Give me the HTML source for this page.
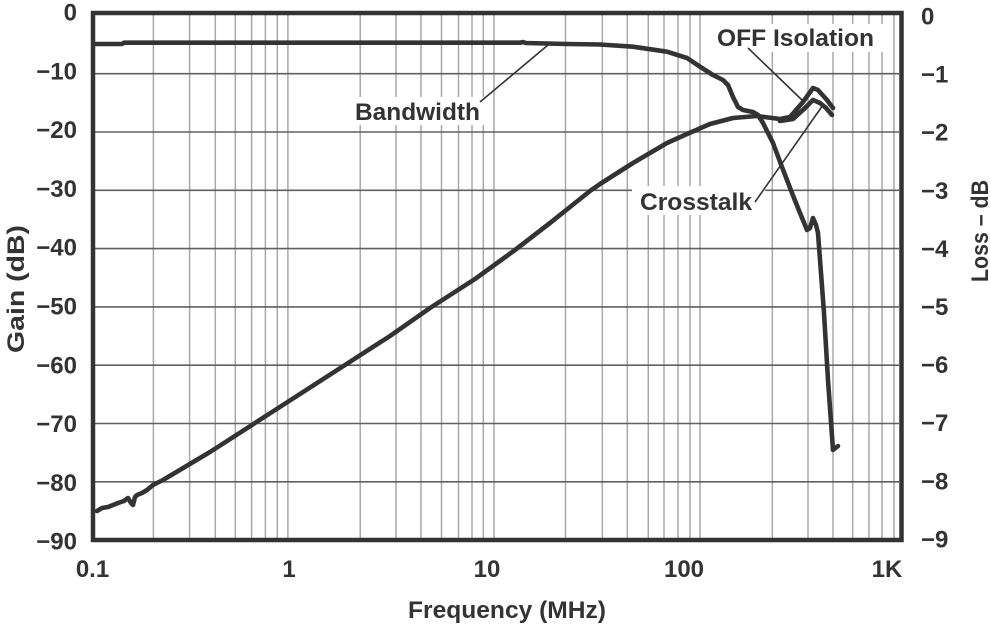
<!DOCTYPE html>
<html>
<head>
<meta charset="utf-8">
<style>
  html,body{margin:0;padding:0;background:#fff;}
  svg{display:block;}
  text{font-family:"Liberation Sans",Arial,sans-serif;font-weight:bold;fill:#333;}
</style>
</head>
<body>
<svg width="991" height="625" viewBox="0 0 991 625" xmlns="http://www.w3.org/2000/svg">
  <rect x="0" y="0" width="991" height="625" fill="#fff"/>

  <!-- vertical gridlines -->
  <g stroke="#a8a8a8" stroke-width="1.5">
    <line x1="153.4" y1="15" x2="153.4" y2="538"/>
    <line x1="189.6" y1="15" x2="189.6" y2="538"/>
    <line x1="215.3" y1="15" x2="215.3" y2="538"/>
    <line x1="235.3" y1="15" x2="235.3" y2="538"/>
    <line x1="251.6" y1="15" x2="251.6" y2="538"/>
    <line x1="265.4" y1="15" x2="265.4" y2="538"/>
    <line x1="277.3" y1="15" x2="277.3" y2="538"/>
    <line x1="287.9" y1="15" x2="287.9" y2="538"/>

    <line x1="360.2" y1="15" x2="360.2" y2="538"/>
    <line x1="396" y1="15" x2="396" y2="538"/>
    <line x1="421" y1="15" x2="421" y2="538"/>
    <line x1="441.5" y1="15" x2="441.5" y2="538"/>
    <line x1="458.5" y1="15" x2="458.5" y2="538"/>
    <line x1="472" y1="15" x2="472" y2="538"/>
    <line x1="483.3" y1="15" x2="483.3" y2="538"/>
    <line x1="494" y1="15" x2="494" y2="538"/>

    <line x1="565.5" y1="15" x2="565.5" y2="538"/>
    <line x1="602.3" y1="15" x2="602.3" y2="538"/>
    <line x1="627.3" y1="15" x2="627.3" y2="538"/>
    <line x1="648.3" y1="15" x2="648.3" y2="538"/>
    <line x1="664" y1="15" x2="664" y2="538"/>
    <line x1="678" y1="15" x2="678" y2="538"/>
    <line x1="690" y1="15" x2="690" y2="538"/>
    <line x1="700" y1="15" x2="700" y2="538"/>

    <line x1="772.3" y1="15" x2="772.3" y2="538"/>
    <line x1="808" y1="15" x2="808" y2="538"/>
    <line x1="833" y1="15" x2="833" y2="538"/>
    <line x1="852.7" y1="15" x2="852.7" y2="538"/>
    <line x1="869" y1="15" x2="869" y2="538"/>
    <line x1="882" y1="15" x2="882" y2="538"/>
    <line x1="894" y1="15" x2="894" y2="538"/>
  </g>

  <!-- horizontal gridlines -->
  <g stroke="#606060" stroke-width="1.6">
    <line x1="95" y1="73.7" x2="899" y2="73.7"/>
    <line x1="95" y1="132" x2="899" y2="132"/>
    <line x1="95" y1="190.3" x2="899" y2="190.3"/>
    <line x1="95" y1="248.6" x2="899" y2="248.6"/>
    <line x1="95" y1="306.9" x2="899" y2="306.9"/>
    <line x1="95" y1="365.2" x2="899" y2="365.2"/>
    <line x1="95" y1="423.5" x2="899" y2="423.5"/>
    <line x1="95" y1="481.8" x2="899" y2="481.8"/>
  </g>

  <!-- label backgrounds -->
  <rect x="342" y="97" width="145" height="28" fill="#fff"/>
  <rect x="707" y="24" width="181" height="28" fill="#fff"/>
  <rect x="632" y="186" width="133" height="29" fill="#fff"/>

  <!-- leader lines -->
  <g stroke="#333" stroke-width="1.6" fill="none">
    <line x1="480" y1="102" x2="548" y2="45"/>
    <line x1="748" y1="48" x2="802" y2="100"/>
    <line x1="755" y1="202" x2="823" y2="105"/>
  </g>

  <!-- curves -->
  <g stroke="#333" stroke-width="4.6" fill="none" stroke-linejoin="round" stroke-linecap="round">
    <!-- Crosstalk / isolation rising -->
    <polyline points="97,511 102,508 108,507 113,505 118,503 124,501 128,498 131,503 133,505 135,497 137,495 142,493 147,490 153,485 163,480 210,452 255,423 300,394 345,365 390,336 430,308 475,279 515,250 550,223 575,203 590,191 600,184 633,163 667,143 687,134 710,124 733,118 757,116 780,119 790,117 803,102 813,88 818,90 827,100 833,108"/>
    <polyline points="780,121 793,119 805,108 813,100 820,103 826,108 832,115"/>
    <!-- Bandwidth -->
    <polyline points="94,44 122,44 124,42.7 520,42.7 523,42 526,43 567,44 600,44.5 633,46.7 667,51.7 687,58 700,66.7 713,75 723,80 728,85 733,97 738,107 743,110 753,112 758,115 763,123 773,143 782,167 792,193 800,213 807,230 810,228 813,218 816,225 818,233 824,313 828,380 833,450 838,446"/>
  </g>

  <!-- frame -->
  <rect x="93" y="13" width="808.5" height="527" fill="none" stroke="#333" stroke-width="4.5"/>

  <!-- annotation text -->
  <text x="355" y="120" font-size="24" textLength="125" lengthAdjust="spacingAndGlyphs">Bandwidth</text>
  <text x="717" y="46" font-size="24" textLength="157" lengthAdjust="spacingAndGlyphs">OFF Isolation</text>
  <text x="640" y="210" font-size="24" textLength="112" lengthAdjust="spacingAndGlyphs">Crosstalk</text>

  <!-- left tick labels -->
  <g font-size="24" text-anchor="end">
    <text x="77" y="20.5">0</text>
    <text x="77" y="79.3">−10</text>
    <text x="77" y="138.1">−20</text>
    <text x="77" y="196.9">−30</text>
    <text x="77" y="255.7">−40</text>
    <text x="77" y="314.5">−50</text>
    <text x="77" y="373.3">−60</text>
    <text x="77" y="432.1">−70</text>
    <text x="77" y="490.9">−80</text>
    <text x="77" y="549.7">−90</text>
  </g>

  <!-- right tick labels -->
  <g font-size="24" text-anchor="start">
    <text x="921" y="24.5">0</text>
    <text x="921" y="82.6">−1</text>
    <text x="921" y="140.7">−2</text>
    <text x="921" y="198.8">−3</text>
    <text x="921" y="256.9">−4</text>
    <text x="921" y="315">−5</text>
    <text x="921" y="373.1">−6</text>
    <text x="921" y="431.2">−7</text>
    <text x="921" y="489.3">−8</text>
    <text x="921" y="547.4">−9</text>
  </g>

  <!-- x tick labels -->
  <g font-size="24" text-anchor="middle">
    <text x="92.5" y="577">0.1</text>
    <text x="289" y="577">1</text>
    <text x="487" y="577">10</text>
    <text x="684" y="577">100</text>
    <text x="887" y="577">1K</text>
  </g>

  <!-- axis titles -->
  <text x="408" y="618" font-size="24" textLength="198" lengthAdjust="spacingAndGlyphs">Frequency (MHz)</text>
  <text transform="translate(24,289) rotate(-90)" font-size="24" text-anchor="middle" textLength="128" lengthAdjust="spacingAndGlyphs">Gain (dB)</text>
  <text transform="translate(988,231) rotate(-90)" font-size="24" text-anchor="middle" textLength="102" lengthAdjust="spacingAndGlyphs">Loss – dB</text>
</svg>
</body>
</html>
